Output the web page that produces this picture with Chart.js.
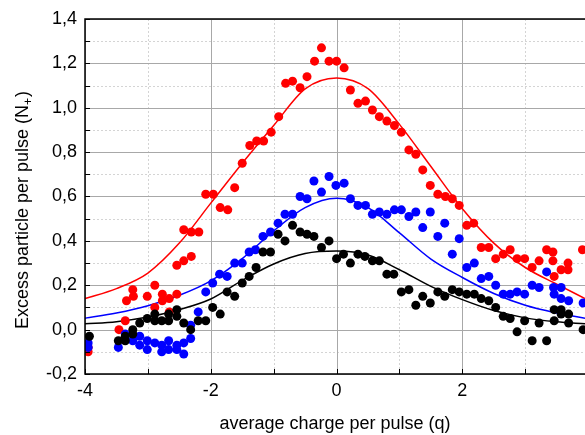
<!DOCTYPE html>
<html>
<head>
<meta charset="utf-8">
<title>Excess particles vs charge</title>
<script src="https://cdn.jsdelivr.net/npm/chart.js@4.4.0/dist/chart.umd.min.js"></script>
<style>
  html, body { margin: 0; padding: 0; background: #fff; }
  #wrap { width: 585px; height: 435px; }
</style>
</head>
<body>
<div id="wrap"><canvas id="chart" width="585" height="435"></canvas></div>
<script>
// measured points, one pair of arrays per series
const redX = [-3.95, -3.95, -3.46, -3.36, -3.34, -3.24, -3.23, -3.01, -2.89, -2.89, -2.77, -2.77, -2.66, -2.66, -2.54, -2.54,
  -2.43, -2.31, -2.43, -2.31, -2.19, -2.08, -1.96, -1.85, -1.73, -1.62, -1.50, -1.38, -1.27, -1.16, -1.04, -0.92,
  -0.81, -0.70, -0.58, -0.47, -0.35, -0.24, -0.12, 0.00, 0.12, 0.22, 0.34, 0.46, 0.57, 0.68, 0.80, 0.92,
  1.03, 1.15, 1.26, 1.37, 1.49, 1.61, 1.73, 1.84, 1.95, 2.07, 2.18, 2.30, 2.42, 2.53, 2.65, 2.76,
  2.87, 2.99, 3.11, 3.22, 3.34, 3.44, 3.44, 3.46, 3.57, 3.68, 3.68, 3.91];
const redY = [-0.08, -0.10, 0.00, 0.04, 0.13, 0.18, 0.15, 0.15, 0.20, 0.10, 0.16, 0.13, 0.14, 0.08, 0.16, 0.29,
  0.31, 0.33, 0.45, 0.44, 0.44, 0.61, 0.61, 0.55, 0.54, 0.64, 0.75, 0.83, 0.85, 0.85, 0.89, 0.96,
  1.11, 1.12, 1.09, 1.14, 1.21, 1.27, 1.21, 1.21, 1.18, 1.08, 1.02, 1.03, 0.99, 0.96, 0.94, 0.92,
  0.89, 0.81, 0.79, 0.72, 0.65, 0.61, 0.60, 0.59, 0.56, 0.47, 0.48, 0.37, 0.37, 0.32, 0.34, 0.36,
  0.32, 0.32, 0.28, 0.31, 0.36, 0.35, 0.31, 0.24, 0.27, 0.30, 0.27, 0.36];

const blueX = [-3.95, -3.95, -3.47, -3.36, -3.24, -3.13, -3.13, -3.01, -3.01, -2.89, -2.78, -2.78, -2.67, -2.67, -2.54, -2.54,
  -2.43, -2.43, -2.32, -2.32, -2.20, -2.08, -1.97, -1.86, -1.74, -1.62, -1.50, -1.39, -1.29, -1.17, -1.05, -0.93,
  -0.82, -0.70, -0.58, -0.47, -0.36, -0.24, -0.12, -0.01, 0.12, 0.22, 0.34, 0.46, 0.57, 0.68, 0.80, 0.92,
  1.03, 1.15, 1.26, 1.37, 1.49, 1.61, 1.72, 1.84, 1.95, 2.07, 2.19, 2.30, 2.42, 2.53, 2.65, 2.76,
  2.87, 2.99, 3.11, 3.22, 3.34, 3.45, 3.46, 3.57, 3.57, 3.69, 3.92];
const blueY = [-0.06, -0.08, -0.08, -0.02, -0.05, -0.03, -0.07, -0.05, -0.09, -0.06, -0.07, -0.10, -0.05, -0.09, -0.07, -0.09,
  -0.06, -0.11, 0.02, -0.04, 0.08, 0.17, 0.21, 0.25, 0.24, 0.30, 0.30, 0.35, 0.36, 0.42, 0.44, 0.48,
  0.52, 0.52, 0.60, 0.59, 0.67, 0.62, 0.69, 0.65, 0.66, 0.59, 0.56, 0.56, 0.52, 0.53, 0.52, 0.54,
  0.54, 0.51, 0.53, 0.46, 0.53, 0.42, 0.48, 0.34, 0.41, 0.28, 0.30, 0.23, 0.24, 0.20, 0.16, 0.16,
  0.17, 0.16, 0.20, 0.19, 0.26, 0.19, 0.16, 0.19, 0.14, 0.13, 0.12];

const blackX = [-3.93, -3.47, -3.36, -3.36, -3.24, -3.24, -3.13, -3.01, -2.89, -2.89, -2.78, -2.67, -2.67, -2.54, -2.54, -2.43,
  -2.32, -2.20, -2.08, -1.97, -1.85, -1.74, -1.62, -1.50, -1.39, -1.28, -1.17, -1.05, -0.93, -0.82, -0.70, -0.58,
  -0.47, -0.36, -0.24, -0.12, 0.00, 0.11, 0.22, 0.34, 0.45, 0.57, 0.68, 0.80, 0.91, 1.03, 1.15, 1.26,
  1.37, 1.49, 1.61, 1.72, 1.84, 1.95, 2.07, 2.19, 2.30, 2.42, 2.53, 2.65, 2.76, 2.87, 2.99, 3.11,
  3.22, 3.34, 3.46, 3.46, 3.57, 3.57, 3.69, 3.69, 3.92];
const blackY = [-0.03, -0.05, -0.03, -0.05, 0.00, -0.02, 0.03, 0.05, 0.07, 0.04, 0.04, 0.07, 0.04, 0.09, 0.06, 0.03,
  0.00, 0.04, 0.04, 0.10, 0.07, 0.17, 0.15, 0.21, 0.24, 0.28, 0.35, 0.35, 0.43, 0.40, 0.47, 0.44,
  0.43, 0.42, 0.37, 0.40, 0.32, 0.34, 0.30, 0.34, 0.33, 0.31, 0.31, 0.25, 0.25, 0.17, 0.18, 0.11,
  0.15, 0.12, 0.17, 0.15, 0.18, 0.17, 0.16, 0.16, 0.14, 0.13, 0.10, 0.06, 0.05, -0.01, 0.04, -0.05,
  0.03, -0.05, 0.09, 0.04, 0.09, 0.07, 0.07, 0.03, 0.00];

// fitted curves, sampled along the charge axis
const fitX = [-4, -3.5, -3, -2.5, -2, -1.5, -1, -0.5, 0, 0.5, 1, 1.5, 2, 2.5, 3, 3.5, 3.95];
const redFit = [0.14, 0.185, 0.255, 0.39, 0.57, 0.75, 0.92, 1.085, 1.134, 1.086, 0.925, 0.735, 0.545, 0.39, 0.28, 0.205, 0.14];
const blueFit = [0.051, 0.075, 0.108, 0.155, 0.22, 0.32, 0.445, 0.55, 0.592, 0.55, 0.436, 0.318, 0.235, 0.163, 0.11, 0.075, 0.051];
const blackFit = [0.026, 0.036, 0.057, 0.09, 0.138, 0.222, 0.296, 0.343, 0.354, 0.336, 0.27, 0.195, 0.135, 0.086, 0.053, 0.035, 0.026];

// axis ticks
const xMajor = [-4, -2, 0, 2];
const xMinor = [-3, -1, 1, 3];
const yMajor = [-0.2, 0, 0.2, 0.4, 0.6, 0.8, 1.0, 1.2, 1.4];
const yMinor = [-0.1, 0.1, 0.3, 0.5, 0.7, 0.9, 1.1, 1.3];

const FONT = '"Liberation Sans", Arial, sans-serif';

function toPoints(xs, ys) {
  return xs.map(function (x, i) { return {x: x, y: ys[i]}; });
}

// grid, frame and inward tick marks
const framePlugin = {
  id: 'frame',
  beforeDatasetsDraw(chart) {
    const ctx = chart.ctx;
    const a = chart.chartArea;
    const sx = chart.scales.x, sy = chart.scales.y;
    ctx.save();
    ctx.lineWidth = 1;
    ctx.strokeStyle = '#d4d4d4';
    ctx.setLineDash([2, 2]);
    xMinor.forEach(function (v) {
      const p = Math.round(sx.getPixelForValue(v)) + 0.5;
      ctx.beginPath(); ctx.moveTo(p, a.top); ctx.lineTo(p, a.bottom); ctx.stroke();
    });
    yMinor.forEach(function (v) {
      const p = Math.round(sy.getPixelForValue(v)) + 0.5;
      ctx.beginPath(); ctx.moveTo(a.left, p); ctx.lineTo(a.right, p); ctx.stroke();
    });
    ctx.setLineDash([]);
    ctx.strokeStyle = '#a8a8a8';
    xMajor.forEach(function (v) {
      const p = Math.round(sx.getPixelForValue(v)) + 0.5;
      ctx.beginPath(); ctx.moveTo(p, a.top); ctx.lineTo(p, a.bottom); ctx.stroke();
    });
    yMajor.forEach(function (v) {
      const p = Math.round(sy.getPixelForValue(v)) + 0.5;
      ctx.beginPath(); ctx.moveTo(a.left, p); ctx.lineTo(a.right, p); ctx.stroke();
    });
    ctx.restore();
  },
  afterDatasetsDraw(chart) {
    const ctx = chart.ctx;
    const a = chart.chartArea;
    const sx = chart.scales.x, sy = chart.scales.y;
    ctx.save();
    ctx.strokeStyle = '#000';
    ctx.lineWidth = 1.5;
    ctx.beginPath();
    ctx.moveTo(a.right, a.top);
    ctx.lineTo(a.left, a.top);
    ctx.lineTo(a.left, a.bottom);
    ctx.lineTo(a.right, a.bottom);
    ctx.stroke();
    ctx.lineWidth = 1;
    xMajor.concat(xMinor).forEach(function (v) {
      const p = Math.round(sx.getPixelForValue(v)) + 0.5;
      ctx.beginPath(); ctx.moveTo(p, a.bottom); ctx.lineTo(p, a.bottom - 5); ctx.stroke();
    });
    yMajor.concat(yMinor).forEach(function (v) {
      const p = Math.round(sy.getPixelForValue(v)) + 0.5;
      ctx.beginPath(); ctx.moveTo(a.left, p); ctx.lineTo(a.left + 5, p); ctx.stroke();
    });
    ctx.restore();
  },
  afterDraw(chart) {
    // y axis title with subscript N+
    const ctx = chart.ctx;
    const main = 'Excess particle per pulse (N';
    ctx.save();
    ctx.translate(28, 210);
    ctx.rotate(-Math.PI / 2);
    ctx.fillStyle = '#000';
    ctx.textBaseline = 'alphabetic';
    ctx.textAlign = 'left';
    ctx.font = '18px ' + FONT;
    const w1 = ctx.measureText(main).width;
    const w3 = ctx.measureText(')').width;
    ctx.font = '12px ' + FONT;
    const w2 = ctx.measureText('+').width;
    let x = -(w1 + w2 + w3 + 1) / 2;
    ctx.font = '18px ' + FONT;
    ctx.fillText(main, x, 0);
    x += w1;
    ctx.font = '12px ' + FONT;
    ctx.fillText('+', x, 4);
    x += w2 + 1;
    ctx.font = '18px ' + FONT;
    ctx.fillText(')', x, 0);
    ctx.restore();
  }
};

function fitLine(data, color) {
  return {
    data: toPoints(fitX, data),
    showLine: true,
    borderColor: color,
    borderWidth: 1.5,
    pointRadius: 0,
    cubicInterpolationMode: 'monotone',
    fill: false,
    order: 10
  };
}

function pointSet(xs, ys, color, order) {
  return {
    data: toPoints(xs, ys),
    showLine: false,
    backgroundColor: color,
    borderColor: color,
    borderWidth: 0,
    pointRadius: 4.5,
    order: order
  };
}

Chart.defaults.font.family = FONT;
Chart.defaults.font.size = 18;
Chart.defaults.color = '#000';

new Chart(document.getElementById('chart'), {
  type: 'scatter',
  data: {
    datasets: [
      fitLine(redFit, '#ff0000'),
      fitLine(blueFit, '#0000ff'),
      fitLine(blackFit, '#000000'),
      pointSet(redX, redY, '#ff0000', 3),
      pointSet(blueX, blueY, '#0000ff', 2),
      pointSet(blackX, blackY, '#000000', 1)
    ]
  },
  options: {
    responsive: false,
    animation: false,
    events: [],
    layout: { autoPadding: false, padding: { top: 19, left: 0, right: 0, bottom: 0 } },
    plugins: { legend: { display: false }, tooltip: { enabled: false } },
    scales: {
      x: {
        type: 'linear',
        min: -4,
        max: 3.95,
        grid: { display: false, drawTicks: false },
        border: { display: false },
        afterBuildTicks: function (scale) {
          scale.ticks = xMajor.map(function (v) { return {value: v}; });
        },
        afterFit: function (scale) { scale.height = 61; },
        ticks: {
          padding: 6,
          maxRotation: 0,
          autoSkip: false,
          callback: function (v) { return String(v); }
        },
        title: {
          display: true,
          text: 'average charge per pulse (q)',
          padding: { top: 0, bottom: 0 }
        }
      },
      y: {
        type: 'linear',
        min: -0.2,
        max: 1.4,
        grid: { display: false, drawTicks: false },
        border: { display: false },
        afterBuildTicks: function (scale) {
          scale.ticks = yMajor.map(function (v) { return {value: v}; });
        },
        afterFit: function (scale) { scale.width = 85; },
        ticks: {
          padding: 8,
          autoSkip: false,
          callback: function (v) { return v.toFixed(1).replace('.', ','); }
        }
      }
    }
  },
  plugins: [framePlugin]
});
</script>
</body>
</html>
